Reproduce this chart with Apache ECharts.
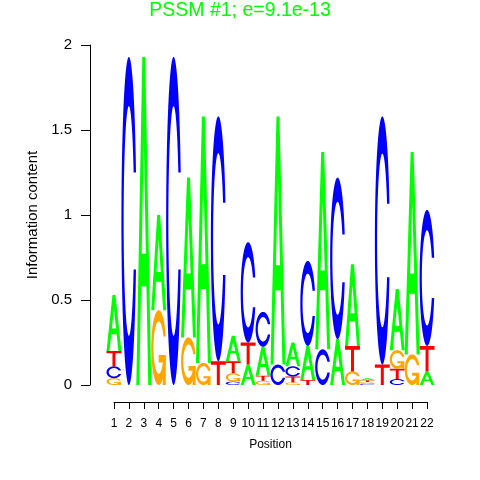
<!DOCTYPE html>
<html><head><meta charset="utf-8">
<script src="https://cdn.jsdelivr.net/npm/echarts@6/dist/echarts.min.js"></script>
<style>html,body{margin:0;padding:0;background:#fff}#c{width:480px;height:480px}</style>
</head><body><div id="c"></div>
<script>
// ---- data ----
const positions = [1,2,3,4,5,6,7,8,9,10,11,12,13,14,15,16,17,18,19,20,21,22];
const letters = ['A','C','G','T'];
const heightA = [0.33,0,1.93,0.56,0,0.94,1.45,0,0.15,0.12,0.17,1.46,0.14,0.20,1.16,0.27,0.48,0.012,0,0.36,1.19,0.08];
const heightC = [0.07,1.93,0,0,1.93,0,0,1.44,0.02,0.59,0.205,0.12,0.06,0.50,0.21,0.95,0,0.008,1.46,0.035,0,0.80];
const heightG = [0.04,0,0,0.44,0,0.28,0.13,0,0.05,0,0.025,0,0.015,0,0,0,0.08,0.01,0,0.11,0.18,0];
const heightT = [0.09,0,0,0,0,0,0,0.14,0.07,0.13,0.03,0,0.035,0.03,0,0,0.15,0.01,0.12,0.06,0,0.15];
const yTicks = [0,0.5,1,1.5,2];
const titleText = 'PSSM #1; e=9.1e-13';
const letterColors = {A:'#00FF00', C:'#0000FF', G:'#FFA500', T:'#FF0000'};

// ---- glyph geometry (unit box, y up) ----
function ringGlyph(){
  const n=100, PI=Math.PI, a1=[], a2=[];
  for(let i=0;i<n;i++){ a1.push(0.3+PI/2 + (PI-(0.3+PI/2))*i/(n-1)); a2.push(PI + 0.5*PI*i/(n-1)); }
  const xl=[], yl=[];
  a1.concat(a2).forEach(a=>{ xl.push(0.5+0.5*Math.sin(a)); yl.push(0.5+0.5*Math.cos(a)); });
  const maxY1 = 0.5+0.5*Math.cos(a1[0]);
  const ox = xl.concat(xl.slice().reverse());
  const oy = yl.concat(yl.slice().reverse().map(v=>1-v));
  let xi1=[], yi1=[];
  a1.forEach(a=>{ const y=0.5+0.35*Math.cos(a); if(y<=maxY1){ xi1.push(0.5+0.35*Math.sin(a)); yi1.push(y);} });
  yi1[0]=maxY1;
  const xi2=a2.map(a=>0.5+0.35*Math.sin(a)), yi2=a2.map(a=>0.5+0.35*Math.cos(a));
  const xi=xi1.concat(xi2), yi=yi1.concat(yi2);
  const ix = xi.concat(xi.slice().reverse());
  const iy = yi.concat(yi.slice().reverse().map(v=>1-v));
  const X = ox.concat(ix.slice().reverse()), Y = oy.concat(iy.slice().reverse());
  return {pts: X.map((x,i)=>[x,Y[i]]), r1: 0.5+0.5*Math.sin(a1[0])};
}
const ring = ringGlyph();
const r1 = ring.r1;
const glyphs = {
  A: [{pts:[[0,0],[0.4,1],[0.6,1],[1,0],[0.8,0],[0.68,0.3],[0.32,0.3],[0.2,0]]},
      {pts:[[0.36,0.4],[0.5,0.75],[0.64,0.4]], white:true}],
  C: [{pts: ring.pts}],
  G: [{pts: ring.pts},{pts:[[r1,0.4],[0.5,0.4],[0.5,0.3],[r1-0.2,0.3],[r1-0.2,0],[r1,0]]}],
  T: [{pts:[[0,1],[1,1],[1,0.85],[0.6,0.85],[0.6,0],[0.4,0],[0.4,0.85],[0,0.85]]}]
};

// ---- stacked letter rows ----
const heights = {A:heightA, C:heightC, G:heightG, T:heightT};
const stackData = [];
positions.forEach((p,i)=>{
  const items = letters.map((l,li)=>({l, li, h: heights[l][i]})).filter(o=>o.h>0);
  items.sort((a,b)=>a.h-b.h || a.li-b.li);
  let y=0;
  items.forEach(o=>{ stackData.push([p, y, y+o.h, o.li]); y+=o.h; });
});

const FONT = 'Liberation Sans, Arial, Helvetica, sans-serif';
const chart = echarts.init(document.getElementById('c'), null, {renderer:'canvas'});
chart.setOption({
  animation:false,
  backgroundColor:'#fff',
  title:{text:titleText, left:'center', top:-4, textStyle:{color:'#00FF00', fontSize:19.5, fontWeight:'normal', fontFamily:FONT}},
  grid:[{left:106.5, right:45.5, top:45, bottom:95},{left:114, right:53, top:45, bottom:78}],
  xAxis:[
    {gridIndex:0, type:'value', min:0.5, max:22.5, show:false},
    {gridIndex:1, type:'value', min:1, max:22, interval:1,
     axisLine:{show:true, lineStyle:{color:'#000', width:1}},
     axisTick:{show:true, length:7, lineStyle:{color:'#000'}},
     axisLabel:{color:'#000', fontSize:12, margin:16, fontFamily:FONT, showMinLabel:true, showMaxLabel:true, hideOverlap:false},
     splitLine:{show:false},
     name:'Position', nameLocation:'middle', nameGap:37, nameTextStyle:{color:'#000', fontSize:12, fontFamily:FONT}}
  ],
  yAxis:[
    {gridIndex:0, type:'value', min:yTicks[0], max:yTicks[yTicks.length-1], interval:0.5, offset:16.5,
     axisLine:{show:true, lineStyle:{color:'#000', width:1}},
     axisTick:{show:true, length:9, lineStyle:{color:'#000'}},
     axisLabel:{color:'#000', fontSize:15, margin:18, fontFamily:FONT},
     splitLine:{show:false},
     name:'Information content', nameLocation:'middle', nameGap:46, nameTextStyle:{color:'#000', fontSize:15, fontFamily:FONT}},
    {gridIndex:1, type:'value', min:0, max:1, show:false}
  ],
  series:[{
    type:'custom', xAxisIndex:0, yAxisIndex:0, data:stackData,
    encode:{x:0, y:[1,2]}, clip:false,
    renderItem:function(params, api){
      const pos=api.value(0), y0=api.value(1), y1=api.value(2), li=api.value(3);
      const l = letters[li];
      const bl = api.coord([pos-0.5, y0]), tr = api.coord([pos+0.5, y1]);
      const w = tr[0]-bl[0], h = bl[1]-tr[1];
      return {type:'group', children: glyphs[l].map(part=>({
        type:'polygon',
        shape:{points: part.pts.map(([u,v])=>[bl[0]+u*w, bl[1]-v*h])},
        style:{fill: part.white ? '#fff' : letterColors[l], stroke:null}
      }))};
    }
  }]
});
</script></body></html>
